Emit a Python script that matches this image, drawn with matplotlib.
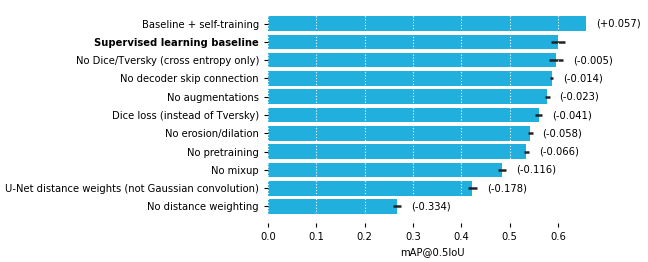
import numpy as np
import matplotlib
matplotlib.use("Agg")
import matplotlib.pyplot as plt

# ablation results
labels = ["Baseline + self-training", "Supervised learning baseline",
          "No Dice/Tversky (cross entropy only)", "No decoder skip connection",
          "No augmentations", "Dice loss (instead of Tversky)", "No erosion/dilation",
          "No pretraining", "No mixup",
          "U-Net distance weights (not Gaussian convolution)", "No distance weighting"]
scores = [0.658, 0.601, 0.596, 0.587, 0.578, 0.560, 0.543, 0.535, 0.485, 0.423, 0.267]
errors = [0.0, 0.0145, 0.015, 0.003, 0.005, 0.007, 0.005, 0.005, 0.008, 0.010, 0.009]
diffs = ["(+0.057)", "", "(-0.005)", "(-0.014)", "(-0.023)", "(-0.041)", "(-0.058)",
         "(-0.066)", "(-0.116)", "(-0.178)", "(-0.334)"]

fs = 7.2
fig = plt.figure(figsize=(6.48, 2.62), dpi=100)
ax = fig.add_axes([0.4136, 0.149, 0.507, 0.824])

y = np.arange(len(labels))
ax.barh(y, scores, height=0.8, color="#21AFDE")
for i in range(len(labels)):
    if errors[i] > 0:
        ax.errorbar(scores[i], y[i], xerr=errors[i], color="#222222", lw=1.8, capsize=0)
    if diffs[i]:
        ax.annotate(diffs[i], (scores[i] + errors[i], y[i]), xytext=(7, 0),
                    textcoords="offset points", va="center", fontsize=fs)

ax.set_yticks(y)
ax.set_yticklabels(labels, fontsize=fs)
ax.get_yticklabels()[1].set_fontweight("bold")
ax.set_ylim(10.9, -0.9)
ax.set_xlim(0, 0.68)
ax.set_xticks([0.0, 0.1, 0.2, 0.3, 0.4, 0.5, 0.6])
ax.tick_params(axis="x", labelsize=fs, length=3)
ax.tick_params(axis="y", length=3)
ax.set_xlabel("mAP@0.5IoU", fontsize=fs)
for s in ax.spines.values():
    s.set_visible(False)
ax.set_axisbelow(False)
ax.grid(axis="x", color="white", linestyle=":", linewidth=0.8)

fig.savefig("out.png", dpi=100)
